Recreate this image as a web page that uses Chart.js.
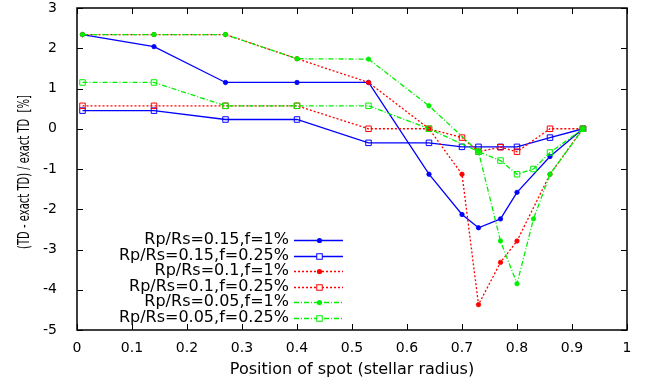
<!DOCTYPE html>
<html>
<head>
<meta charset="utf-8">
<script src="https://cdn.jsdelivr.net/npm/chart.js@4"></script>
<style>
  html, body { margin: 0; padding: 0; background: #fff; }
  #wrap { width: 646px; height: 383px; }
</style>
</head>
<body>
<div id="wrap"><canvas id="spotChart" width="646" height="383"></canvas></div>
<script>
// Spot positions (stellar radius) shared by all series
const positions = [0.01, 0.14, 0.27, 0.40, 0.53, 0.64, 0.70, 0.73, 0.77, 0.80, 0.83, 0.86, 0.92];

// (TD - exact TD) / exact TD [%], null = no point at that position
const rp015f1   = [2.34, 2.04, 1.15, 1.15, 1.15, -1.13, -2.13, -2.46, -2.24, -1.58, null, -0.69, 0];
const rp015f025 = [0.45, 0.45, 0.23, 0.23, -0.35, -0.35, -0.45, -0.45, -0.45, -0.45, null, -0.22, 0];
const rp01f1    = [2.34, 2.34, 2.34, 1.74, 1.15, 0, -1.13, -4.37, -3.32, -2.79, null, -1.13, 0];
const rp01f025  = [0.57, 0.57, 0.57, 0.57, 0, 0, -0.22, -0.57, -0.46, -0.57, null, 0, 0];
const rp005f1   = [2.34, 2.34, 2.34, 1.74, 1.73, 0.57, null, -0.57, -2.79, -3.85, -2.24, -1.13, 0];
const rp005f025 = [1.15, 1.15, 0.57, 0.57, 0.57, 0, null, -0.57, -0.79, -1.13, -1.0, -0.59, 0];

const seriesLabels = [
    'Rp/Rs=0.15,f=1%',
    'Rp/Rs=0.15,f=0.25%',
    'Rp/Rs=0.1,f=1%',
    'Rp/Rs=0.1,f=0.25%',
    'Rp/Rs=0.05,f=1%',
    'Rp/Rs=0.05,f=0.25%'
];

const xTicks = [0, 0.1, 0.2, 0.3, 0.4, 0.5, 0.6, 0.7, 0.8, 0.9, 1];
const yTicks = [-5, -4, -3, -2, -1, 0, 1, 2, 3];

const xTitle = 'Position of spot (stellar radius)';
const yTitle = '(TD - exact TD) / exact TD  [%]';

const FONT = '"DejaVu Sans", sans-serif';

// Pair positions with values, skipping missing points
function toPoints(values) {
    return positions
        .map((x, i) => ({ x: x, y: values[i] }))
        .filter(p => p.y !== null);
}

function makeSeries(label, values, color, dash, square, order) {
    return {
        label: label,
        data: toPoints(values),
        borderColor: color,
        backgroundColor: color,
        borderWidth: 1.3,
        borderDash: dash,
        pointStyle: square ? 'rect' : 'circle',
        pointRadius: square ? 3.9 : 2.2,
        pointBorderWidth: square ? 1 : 0.8,
        pointBorderColor: color,
        pointBackgroundColor: square ? 'rgba(0,0,0,0)' : color,
        tension: 0,
        spanGaps: true,
        order: order
    };
}

const solid = [];
const dotted = [2, 2];
const dashDot = [5, 2, 1, 2];

const datasets = [
    makeSeries(seriesLabels[0], rp015f1, '#0000ff', solid, false, 6),
    makeSeries(seriesLabels[1], rp015f025, '#0000ff', solid, true, 5),
    makeSeries(seriesLabels[2], rp01f1, '#ff0000', dotted, false, 4),
    makeSeries(seriesLabels[3], rp01f025, '#ff0000', dotted, true, 3),
    makeSeries(seriesLabels[4], rp005f1, '#00f000', dashDot, false, 2),
    makeSeries(seriesLabels[5], rp005f025, '#00f000', dashDot, true, 1)
];

// Inward ticks on all four sides plus the frame, gnuplot style
const frameTicks = {
    id: 'frameTicks',
    afterDraw(chart) {
        const { ctx, chartArea: a, scales: { x, y } } = chart;
        ctx.save();
        ctx.strokeStyle = '#000';
        ctx.lineWidth = 1;
        ctx.beginPath();
        xTicks.forEach(v => {
            const px = Math.round(x.getPixelForValue(v)) + 0.5;
            ctx.moveTo(px, a.bottom); ctx.lineTo(px, a.bottom - 6);
            ctx.moveTo(px, a.top); ctx.lineTo(px, a.top + 6);
        });
        yTicks.forEach(v => {
            const py = Math.round(y.getPixelForValue(v)) + 0.5;
            ctx.moveTo(a.left, py); ctx.lineTo(a.left + 6, py);
            ctx.moveTo(a.right, py); ctx.lineTo(a.right - 6, py);
        });
        ctx.stroke();
        ctx.lineWidth = 1.5;
        ctx.strokeRect(a.left, a.top, a.right - a.left, a.bottom - a.top);

        // y axis title, squeezed along its length like the original
        ctx.fillStyle = '#000';
        ctx.translate(25, (a.top + a.bottom) / 2 + 3);
        ctx.rotate(-Math.PI / 2);
        ctx.scale(1, 1.6);
        ctx.font = '10px ' + FONT;
        ctx.textAlign = 'center';
        ctx.textBaseline = 'middle';
        ctx.fillText(yTitle, 0, 0);
        ctx.restore();
    }
};

// Legend in the lower left: right-aligned text, sample on the right
const keyLegend = {
    id: 'keyLegend',
    afterDraw(chart) {
        const ctx = chart.ctx;
        const textRight = 289;
        const lineStart = 294;
        const lineEnd = 343;
        const top = 240;
        const rowStep = 15.5;
        ctx.save();
        chart.data.datasets.forEach((ds, i) => {
            const ry = Math.round(top + i * rowStep);
            ctx.font = '16px ' + FONT;
            ctx.fillStyle = '#000';
            ctx.textAlign = 'right';
            ctx.textBaseline = 'middle';
            ctx.fillText(ds.label, textRight, ry);

            ctx.strokeStyle = ds.borderColor;
            ctx.lineWidth = ds.borderWidth;
            ctx.setLineDash(ds.borderDash);
            ctx.beginPath();
            ctx.moveTo(lineStart, ry + 0.5);
            ctx.lineTo(lineEnd, ry + 0.5);
            ctx.stroke();
            ctx.setLineDash([]);

            const mx = Math.round((lineStart + lineEnd) / 2) + 0.5;
            if (ds.pointStyle === 'rect') {
                const h = ds.pointRadius * Math.SQRT1_2;
                ctx.fillStyle = '#fff';
                ctx.fillRect(mx - h, ry + 0.5 - h, 2 * h, 2 * h);
                ctx.lineWidth = ds.pointBorderWidth;
                ctx.strokeRect(mx - h, ry + 0.5 - h, 2 * h, 2 * h);
            } else {
                ctx.fillStyle = ds.borderColor;
                ctx.beginPath();
                ctx.arc(mx, ry + 0.5, ds.pointRadius + 0.4, 0, Math.PI * 2);
                ctx.fill();
            }
        });
        ctx.restore();
    }
};

new Chart(document.getElementById('spotChart').getContext('2d'), {
    type: 'line',
    data: { datasets: datasets },
    options: {
        responsive: false,
        animation: false,
        devicePixelRatio: 1,
        layout: { padding: { left: 0, right: 19, top: 8, bottom: 0 } },
        plugins: {
            legend: { display: false },
            tooltip: { enabled: false }
        },
        scales: {
            x: {
                type: 'linear',
                min: 0,
                max: 1,
                afterBuildTicks: s => { s.ticks = xTicks.map(v => ({ value: v })); },
                afterFit: s => { s.height = 53; s.paddingLeft = 0; s.paddingRight = 0; },
                grid: { display: false },
                border: { display: false },
                ticks: {
                    color: '#000',
                    font: { family: FONT, size: 14 },
                    padding: 2,
                    maxRotation: 0,
                    callback: v => String(v)
                },
                title: {
                    display: true,
                    text: xTitle,
                    color: '#000',
                    font: { family: FONT, size: 16 },
                    padding: { top: 0, bottom: 4 }
                }
            },
            y: {
                type: 'linear',
                min: -5,
                max: 3,
                afterBuildTicks: s => { s.ticks = yTicks.map(v => ({ value: v })); },
                afterFit: s => { s.width = 77; s.paddingTop = 0; s.paddingBottom = 0; },
                grid: { display: false },
                border: { display: false },
                ticks: {
                    color: '#000',
                    font: { family: FONT, size: 14 },
                    padding: 12,
                    callback: v => String(v)
                }
            }
        }
    },
    plugins: [frameTicks, keyLegend]
});
</script>
</body>
</html>
